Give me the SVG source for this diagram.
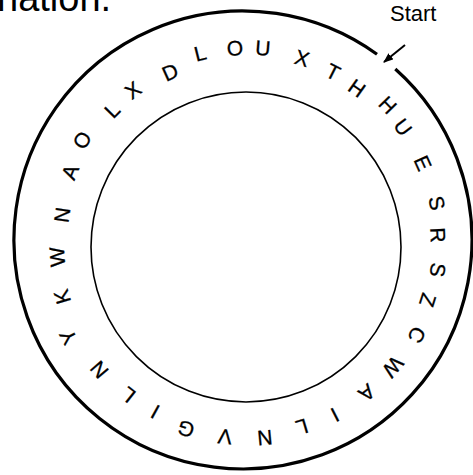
<svg xmlns="http://www.w3.org/2000/svg" width="473" height="475" viewBox="0 0 473 475">
<style>
  .ring { fill: none; stroke: #000; }
  .outer { stroke-width: 3.2; }
  .inner { stroke-width: 1.6; }
  .ltr { font-family: "Liberation Sans", Arial, sans-serif; font-size: 21px; fill: #000; stroke: #000; stroke-width: 0.3; text-anchor: middle; }
  .lbl { font-family: "Liberation Sans", Arial, sans-serif; font-size: 22px; fill: #000; }
  .body { font-family: "Liberation Sans", Arial, sans-serif; font-size: 38px; fill: #000; }
</style>
<defs>
  <marker id="ah" viewBox="0 0 10 8" refX="9" refY="4" markerWidth="10" markerHeight="8" markerUnits="userSpaceOnUse" orient="auto">
    <path d="M0,0 L10,4 L0,8 Z" fill="#000"/>
  </marker>
</defs>
<rect width="473" height="475" fill="#fff"/>
<text class="body" x="-3" y="11">nation.</text>
<g id="outer-ring"><path class="ring outer" d="M 395.3 69.0 A 229 229 0 1 1 377.0 54.3"/></g>
<g id="inner-ring"><circle class="ring inner" cx="246" cy="247" r="155"/></g>
<g id="start">
  <text class="lbl" x="390" y="21">Start</text>
</g>
<g id="connectors">
  <line x1="405" y1="45" x2="384" y2="62" stroke="#000" stroke-width="2" marker-end="url(#ah)"/>
</g>
<g id="letters">
  <text class="ltr" transform="translate(388 105) rotate(45.6)" y="7.5">H</text>
  <text class="ltr" transform="translate(403 127) rotate(53.4)" y="7.5">U</text>
  <text class="ltr" transform="translate(423 163) rotate(65.6)" y="7.5">E</text>
  <text class="ltr" transform="translate(437 203) rotate(78.1)" y="7.5">S</text>
  <text class="ltr" transform="translate(438 235) rotate(87.6)" y="7.5">R</text>
  <text class="ltr" transform="translate(438 270) rotate(98)" y="7.5">S</text>
  <text class="ltr" transform="translate(428 300) rotate(107.5)" y="7.5">Z</text>
  <text class="ltr" transform="translate(417 335) rotate(118.4)" y="7.5">C</text>
  <text class="ltr" transform="translate(393 367) rotate(130.3)" y="7.5">W</text>
  <text class="ltr" transform="translate(367 393) rotate(141.3)" y="7.5">A</text>
  <text class="ltr" transform="translate(335 415) rotate(152.9)" y="7.5">I</text>
  <text class="ltr" transform="translate(302 427) rotate(163.4)" y="7.5">L</text>
  <text class="ltr" transform="translate(265 438) rotate(174.7)" y="7.5">N</text>
  <text class="ltr" transform="translate(225 437) rotate(186.5)" y="7.5">V</text>
  <text class="ltr" transform="translate(186 429) rotate(198.2)" y="7.5">G</text>
  <text class="ltr" transform="translate(155 412) rotate(208.6)" y="7.5">I</text>
  <text class="ltr" transform="translate(128 395) rotate(218.1)" y="7.5">L</text>
  <text class="ltr" transform="translate(99 370) rotate(229.4)" y="7.5">N</text>
  <text class="ltr" transform="translate(68 337) rotate(242.3)" y="7.5">Y</text>
  <text class="ltr" transform="translate(62 297) rotate(253.7)" y="7.5">K</text>
  <text class="ltr" transform="translate(57 257) rotate(265.8)" y="7.5">W</text>
  <text class="ltr" transform="translate(62 215) rotate(278.6)" y="7.5">N</text>
  <text class="ltr" transform="translate(70 172) rotate(291.9)" y="7.5">A</text>
  <text class="ltr" transform="translate(82 140) rotate(302)" y="7.5">O</text>
  <text class="ltr" transform="translate(112 110) rotate(314.6)" y="7.5">L</text>
  <text class="ltr" transform="translate(133 90) rotate(323.3)" y="7.5">X</text>
  <text class="ltr" transform="translate(170 72) rotate(335.8)" y="7.5">D</text>
  <text class="ltr" transform="translate(200 53) rotate(346.1)" y="7.5">L</text>
  <text class="ltr" transform="translate(235 48) rotate(-3.5)" y="7.5">O</text>
  <text class="ltr" transform="translate(263 48) rotate(4.7)" y="7.5">U</text>
  <text class="ltr" transform="translate(302 58) rotate(16.6)" y="7.5">X</text>
  <text class="ltr" transform="translate(333 72) rotate(26.7)" y="7.5">T</text>
  <text class="ltr" transform="translate(357 88) rotate(35.4)" y="7.5">H</text>
</g>
</svg>
